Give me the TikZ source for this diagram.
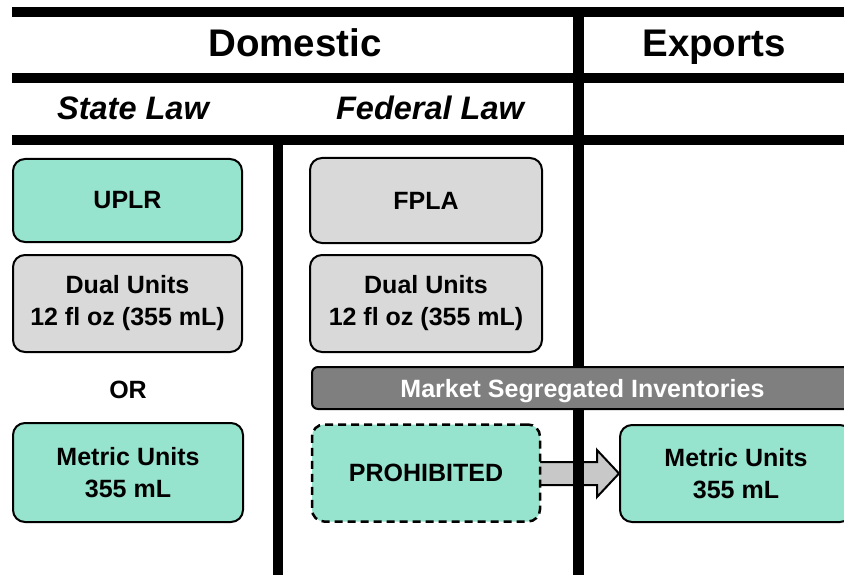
\documentclass[tikz,border=0pt]{standalone}
\usepackage{fontspec}
\setmainfont{Liberation Sans}
\usetikzlibrary{calc}
\definecolor{tealbox}{RGB}{150,227,206}
\definecolor{graybox}{RGB}{217,217,217}
\definecolor{darkbar}{RGB}{127,127,127}
\definecolor{arrowgray}{RGB}{200,200,200}
\pgfdeclarelayer{background}
\pgfsetlayers{background,main}
\begin{document}
\begin{tikzpicture}[x=1pt,y=-1pt,
  boxbase/.style={draw=black, line width=2pt, rounded corners=12pt, inner sep=0pt,
    align=center, font=\bfseries\fontsize{25}{32}\selectfont},
  tealnode/.style={boxbase, fill=tealbox},
  graynode/.style={boxbase, fill=graybox},
  dashnode/.style={boxbase, fill=tealbox, dash pattern=on 8pt off 5pt, line width=2.5pt},
  barnode/.style={draw=black, line width=2pt, rounded corners=6pt, fill=darkbar, text=white,
    inner sep=0pt, text height=18pt, text depth=0pt, font=\bfseries\fontsize{25}{30}\selectfont},
  headtext/.style={anchor=base, font=\bfseries\fontsize{38.5}{44}\selectfont},
  subtext/.style={anchor=base, font=\bfseries\itshape\fontsize{32.5}{38}\selectfont},
  sep/.style={fill=black}
]
\useasboundingbox (0,0) rectangle (844,575);

% headers
\node[headtext] (dom) at (295,57) {Domestic};
\node[headtext] (exp) at (714,57) {Exports};
\node[subtext] (state) at (133,120) {State Law};
\node[subtext] (fed) at (430,120) {Federal Law};

% boxes
\node[tealnode, minimum width=229pt, minimum height=83pt] (uplr) at (127.5,200.5) {UPLR};
\node[graynode, minimum width=229pt, minimum height=97pt] (dualL) at (127.5,303.5) {Dual Units\\12 fl oz (355 mL)};
\node[font=\bfseries\fontsize{25}{30}\selectfont] (or) at (128,390) {OR};
\node[tealnode, minimum width=230pt, minimum height=99pt] (metricL) at (128,472.5) {Metric Units\\355 mL};

\node[graynode, minimum width=232pt, minimum height=85pt] (fpla) at (426,200.5) {FPLA};
\node[graynode, minimum width=232pt, minimum height=97pt] (dualR) at (426,303.5) {Dual Units\\12 fl oz (355 mL)};
\node[barnode, minimum width=541pt, minimum height=42pt] (market) at (582.5,388) {Market Segregated Inventories};
\node[dashnode, minimum width=228pt, minimum height=97pt] (prohib) at (426,473) {PROHIBITED};
\node[tealnode, minimum width=232pt, minimum height=97pt] (metricR) at (736,473.5) {Metric Units\\355 mL};

\begin{pgfonlayer}{background}
  % block arrow
  \path (prohib.center) coordinate (a0) (metricR.west) coordinate (a1);
  \draw[fill=arrowgray, line width=2pt, line join=miter]
    ($(a0|-a1)+(0,-11.5)$) -- ($(a1)+(-22,-11.5)$) -- ($(a1)+(-22,-23.5)$) -- (a1)
    -- ($(a1)+(-22,23.5)$) -- ($(a1)+(-22,11.5)$) -- ($(a0|-a1)+(0,11.5)$) -- cycle;
  % separator bars
  \fill[sep] (12,7) rectangle (844,17);
  \fill[sep] (12,73) rectangle (844,83);
  \fill[sep] (12,135) rectangle (844,145);
  \fill[sep] (573,7) rectangle (584,575);
  \fill[sep] (273,140) rectangle (283,575);
\end{pgfonlayer}
\end{tikzpicture}
\end{document}
